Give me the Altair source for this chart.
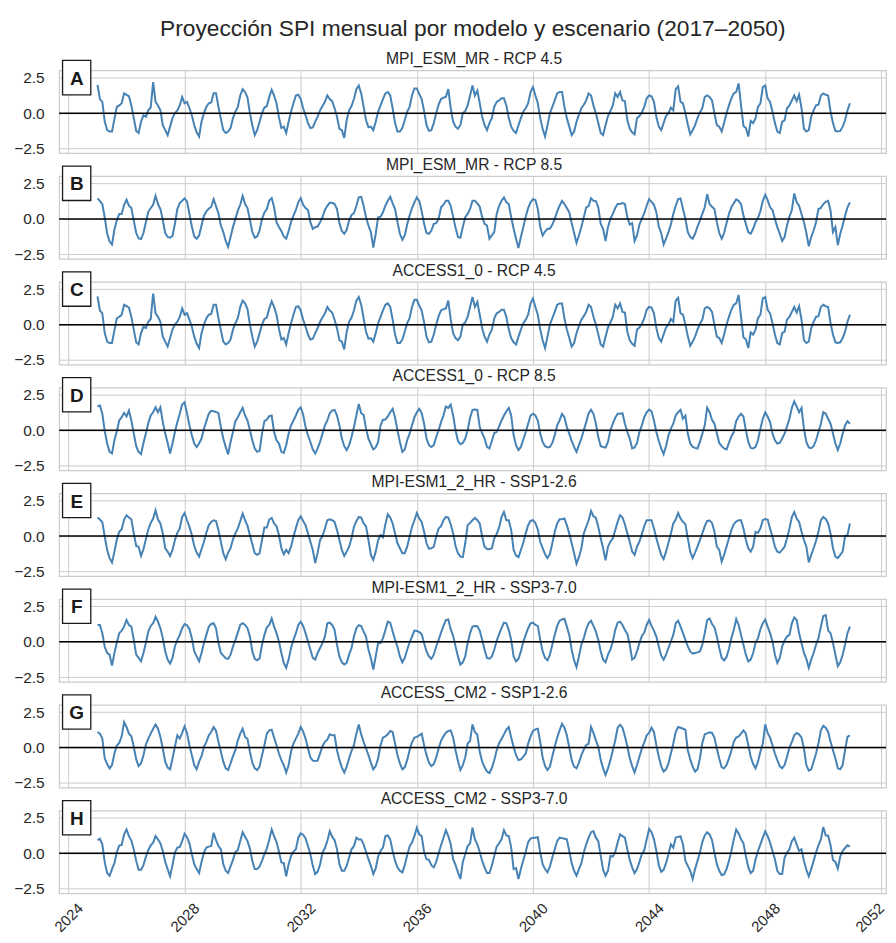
import altair as alt
import pandas as pd

FONT = "Liberation Sans"
main_title = "Proyección SPI mensual por modelo y escenario (2017–2050)"
panel_titles = [
    "MPI_ESM_MR - RCP 4.5",
    "MPI_ESM_MR - RCP 8.5",
    "ACCESS1_0 - RCP 4.5",
    "ACCESS1_0 - RCP 8.5",
    "MPI-ESM1_2_HR - SSP1-2.6",
    "MPI-ESM1_2_HR - SSP3-7.0",
    "ACCESS_CM2 - SSP1-2.6",
    "ACCESS_CM2 - SSP3-7.0",
]
panel_letters = ["A", "B", "C", "D", "E", "F", "G", "H"]
first_year = 2025
x_ticks = [2024, 2028, 2032, 2036, 2040, 2044, 2048, 2052]
y_ticks = [-2.5, 0.0, 2.5]

# monthly SPI values, one row per year (Jan..Dec), 2025-2050
spi_a = [
    [2.0, 1.0, 0.8, -0.6, -1.2, -1.3, -1.3, -0.4, 0.45, 0.55, 0.7, 1.4],
    [1.3, 1.2, 0.55, -0.35, -1.25, -1.4, -0.6, -0.15, -0.25, 0.2, 0.4, 2.2],
    [0.8, 0.55, 0.2, -0.85, -1.2, -1.55, -0.95, -0.35, 0.0, 0.2, 0.55, 1.15],
    [0.7, 0.8, 0.35, -0.15, -0.85, -1.35, -1.65, -0.6, 0.0, 0.45, 0.7, 0.75],
    [1.4, 1.4, 0.45, -0.4, -1.2, -1.4, -1.3, -1.05, -0.35, 0.1, 0.45, 1.25],
    [1.7, 1.5, 1.1, 0.0, -0.85, -1.55, -1.2, -0.6, 0.0, 0.4, 0.5, 1.15],
    [1.65, 1.25, 0.7, -0.3, -1.05, -0.95, -1.4, -0.6, 0.1, 0.7, 1.25, 1.3],
    [1.0, 0.35, -0.15, -0.7, -1.05, -1.0, -0.6, -0.25, 0.2, 0.5, 0.8, 1.25],
    [1.0, 0.85, 0.35, -0.25, -1.1, -1.2, -1.75, -0.5, 0.2, 0.5, 1.0, 1.7],
    [1.95, 1.4, 0.45, -0.5, -1.0, -0.95, -1.2, -0.6, 0.1, 0.55, 1.0, 1.4],
    [1.5, 1.25, 0.35, -0.7, -1.3, -1.3, -1.05, -0.5, 0.1, 0.45, 1.25, 1.75],
    [1.75, 1.35, 1.0, 0.15, -0.85, -1.25, -1.2, -0.7, 0.0, 0.6, 1.0, 1.1],
    [1.15, 1.7, 0.35, -0.6, -0.95, -1.1, -0.85, 0.0, 0.15, 0.55, 1.25, 1.95],
    [1.25, 1.6, 0.7, -0.25, -0.85, -1.2, -0.7, -0.35, 0.45, 0.8, 0.9, 1.05],
    [1.05, 0.55, -0.35, -0.95, -1.25, -1.4, -0.85, -0.35, 0.1, 0.35, 0.7, 1.5],
    [1.85, 1.25, 0.7, -0.35, -1.1, -1.65, -0.85, 0.0, 0.45, 0.9, 1.4, 1.5],
    [1.5, 0.45, -0.35, -0.95, -1.55, -1.3, -0.6, -0.1, 0.35, 0.6, 0.9, 1.4],
    [1.25, 0.55, 0.0, -0.7, -1.4, -1.55, -0.85, -0.2, 0.15, 0.55, 1.4, 1.15],
    [1.5, 0.9, 0.85, -0.5, -1.1, -1.35, -1.5, -0.35, -0.2, 0.05, 0.45, 1.05],
    [1.25, 1.2, 0.8, -0.25, -0.95, -1.2, -0.7, -0.2, 0.0, 0.4, 0.2, 1.7],
    [1.9, 0.8, 0.7, 0.0, -0.8, -1.5, -1.2, -0.85, -0.35, 0.05, 0.35, 1.15],
    [1.25, 1.15, 0.9, 0.0, -0.85, -0.95, -1.3, -0.7, 0.0, 0.55, 1.05, 1.4],
    [1.5, 2.1, 0.55, -0.9, -1.05, -1.65, -0.55, -0.7, -0.35, 0.45, 0.7, 1.85],
    [1.95, 1.05, 0.8, 0.1, -0.7, -1.3, -1.4, -0.6, -0.5, 0.35, 0.55, 0.9],
    [1.25, 0.85, 1.3, 0.35, -1.1, -1.3, -1.2, -0.25, 0.2, 0.55, 0.6, 1.25],
    [1.4, 1.3, 1.25, 0.1, -0.7, -1.25, -1.3, -1.25, -0.95, -0.5, 0.2, 0.7],
]

spi_b = [
    [1.45, 1.28, 1.05, 0.1, -1.05, -1.6, -1.8, -0.75, -0.1, 0.35, 0.35, 1.0],
    [1.35, 0.93, 0.77, -0.12, -1.0, -1.38, -1.42, -1.0, -0.23, 0.5, 0.77, 1.0],
    [1.63, 1.05, 0.7, -0.07, -1.0, -1.28, -1.33, -1.2, -0.35, 0.7, 1.12, 1.28],
    [1.45, 1.24, 0.35, -0.54, -1.24, -1.4, -1.17, -0.47, 0.23, 0.54, 0.72, 0.86],
    [1.4, 0.89, 0.4, -0.47, -0.93, -1.56, -1.98, -1.28, -0.58, 0.0, 0.58, 1.0],
    [1.63, 1.05, 0.77, -0.07, -0.93, -1.33, -1.24, -0.82, 0.0, 0.45, 0.7, 1.3],
    [1.47, 0.82, -0.23, -0.58, -0.86, -1.24, -1.4, -0.86, -0.23, 0.23, 0.63, 1.17],
    [1.47, 1.0, 0.77, 0.63, -0.23, -0.7, -0.58, -0.54, -0.23, 0.12, 0.63, 0.93],
    [1.14, 1.14, 1.05, 0.7, -0.3, -0.86, -1.05, -0.77, -0.12, 0.28, 0.4, 0.93],
    [1.52, 1.56, 0.93, 0.12, -0.47, -0.93, -2.03, -1.05, 0.12, 0.16, 0.47, 0.93],
    [1.28, 1.56, 1.1, 0.7, -0.23, -1.05, -1.47, -1.17, -0.4, 0.23, 0.77, 1.17],
    [1.52, 1.28, 0.54, -0.35, -1.0, -1.05, -0.82, -0.35, -0.3, 0.0, 0.82, 1.0],
    [1.28, 1.28, 0.93, 0.16, -0.63, -1.28, -1.33, -0.58, 0.12, 0.35, 0.7, 1.28],
    [1.28, 1.1, 0.86, 0.12, -0.35, -0.47, -1.4, -1.17, -0.93, 0.35, 0.93, 1.28],
    [1.52, 1.17, 1.05, 0.12, -0.7, -1.4, -2.05, -1.28, -0.58, 0.16, 0.77, 1.17],
    [1.4, 1.33, 0.7, -0.58, -1.17, -0.89, -0.7, -0.7, -0.4, 0.0, 0.51, 0.93],
    [1.28, 1.05, 0.77, 0.47, -0.3, -1.0, -1.7, -1.17, -0.58, 0.12, 0.82, 0.91],
    [1.47, 1.28, 1.26, 0.82, -0.35, -0.7, -1.56, -0.58, 0.0, 0.35, 0.77, 1.05],
    [1.05, 1.12, 1.05, 0.12, -0.4, -0.3, -1.56, -1.17, -0.4, 0.0, 0.4, 0.93],
    [1.4, 1.21, 1.0, 0.47, -0.54, -1.0, -1.8, -1.4, -0.93, -0.4, 0.35, 0.93],
    [1.4, 1.45, 0.7, 0.0, -0.93, -1.28, -1.4, -1.05, -0.54, -0.12, 0.35, 0.82],
    [1.75, 1.05, 0.86, 0.7, -0.23, -1.0, -1.4, -1.0, -0.3, 0.35, 0.82, 1.1],
    [1.38, 1.28, 1.05, 0.23, -0.35, -0.93, -1.05, -0.7, -0.23, 0.07, 0.54, 1.28],
    [1.7, 1.33, 0.82, 0.63, 0.0, -0.58, -1.05, -1.56, -1.28, -0.47, 0.16, 0.63],
    [1.8, 1.17, 0.93, 0.35, -0.23, -1.0, -1.93, -1.28, -0.82, -0.23, 0.7, 0.77],
    [1.05, 1.21, 1.28, 0.58, -0.93, -0.58, -1.86, -1.05, -0.47, 0.23, 0.82, 1.17],
]

# ACCESS1_0 RCP 4.5 draws the same series as MPI_ESM_MR RCP 4.5 in the source figure
spi_c = [row[:] for row in spi_a]

spi_d = [
    [1.7, 1.75, 1.17, -0.05, -0.93, -1.52, -1.63, -0.7, -0.05, 0.7, 0.93, 1.24],
    [0.98, 1.4, 0.7, -0.23, -1.12, -1.52, -1.68, -0.89, -0.23, 0.51, 1.05, 1.28],
    [1.63, 1.28, 1.63, 0.58, -0.23, -0.89, -1.63, -0.93, -0.12, 0.58, 1.17, 1.82],
    [1.98, 1.21, 0.35, -0.35, -0.93, -1.17, -0.93, -0.58, 0.12, 0.65, 1.17, 1.38],
    [1.35, 1.3, 1.21, 0.23, -0.58, -1.17, -1.7, -0.82, -0.12, 0.65, 0.93, 1.28],
    [1.59, 1.05, 0.7, 0.0, -0.7, -1.28, -1.52, -1.45, -0.23, 0.65, 0.77, 1.0],
    [1.05, -0.12, -0.7, -0.93, -1.52, -1.59, -1.05, -0.23, 0.35, 0.7, 1.05, 1.45],
    [1.63, 1.12, 0.23, -0.35, -0.82, -1.35, -1.63, -1.28, -0.82, -0.23, 0.35, 0.7],
    [1.21, 1.4, 1.45, 1.05, 0.35, -0.58, -1.12, -1.4, -1.05, -0.47, 0.23, 1.05],
    [1.86, 1.21, 1.1, 0.12, -0.58, -0.98, -1.35, -1.21, -0.82, 0.35, 0.75, 0.77],
    [0.98, 1.28, 1.52, 0.89, 0.0, -0.82, -1.52, -1.35, -0.7, -0.23, 0.35, 0.93],
    [1.28, 1.52, 1.21, 0.47, -0.58, -1.05, -1.17, -1.05, -0.47, 0.0, 0.58, 1.05],
    [1.68, 1.59, 1.82, 1.05, 0.0, -0.75, -0.98, -0.89, -0.58, 0.0, 0.89, 1.45],
    [1.47, 1.45, 0.23, -0.19, -0.58, -1.17, -1.28, -0.75, -0.19, -0.12, 0.28, 0.7],
    [1.05, 1.35, 1.59, 1.05, -0.35, -1.05, -1.4, -1.17, -0.65, -0.12, 0.47, 1.05],
    [1.17, 1.05, 0.7, -0.23, -0.82, -1.12, -1.21, -1.17, -0.89, -0.35, 0.35, 0.7],
    [1.17, 0.93, 0.23, -0.23, -0.75, -1.17, -1.52, -1.05, -0.58, 0.0, 0.58, 1.21],
    [1.45, 1.17, 0.47, -0.47, -1.12, -1.17, -1.21, -0.82, 0.0, 0.47, 0.89, 1.17],
    [1.17, 1.21, 0.47, -0.12, -0.58, -1.28, -1.21, -0.89, -0.12, 0.35, 0.93, 1.28],
    [1.47, 1.35, 0.7, -0.12, -0.75, -1.28, -1.68, -1.12, -0.35, 0.12, 0.47, 1.05],
    [1.28, 1.45, 0.82, 1.05, -0.23, -0.93, -1.17, -1.24, -1.28, -0.82, -0.23, 0.35],
    [1.6, 1.28, 0.75, 0.47, -0.23, -0.89, -1.12, -1.28, -1.35, -0.89, -0.42, -0.12],
    [0.65, 0.98, 1.17, 0.98, 0.0, -0.82, -1.24, -1.28, -1.17, -0.7, 0.12, 0.82],
    [1.28, 0.98, 0.58, -0.23, -0.7, -0.93, -0.89, -0.58, -0.23, 0.28, 0.82, 1.59],
    [2.05, 1.68, 1.28, 1.59, 0.12, -0.82, -1.21, -1.26, -1.12, -0.7, -0.12, 0.47],
    [1.28, 1.17, 0.82, 0.47, -0.23, -0.93, -1.4, -0.93, -0.23, 0.35, 0.65, 0.47],
]

spi_e = [
    [1.31, 1.17, 0.98, -0.05, -0.98, -1.56, -1.86, -1.1, -0.23, 0.3, 0.49, 1.17],
    [1.47, 1.31, 1.19, 0.19, -0.7, -0.75, -1.4, -0.93, -0.23, 0.47, 0.93, 1.24],
    [1.82, 1.17, 0.89, 0.19, -0.86, -1.1, -1.4, -0.98, -0.28, 0.23, 0.54, 1.35],
    [1.63, 1.12, 0.65, 0.07, -0.7, -1.17, -1.45, -0.93, -0.4, 0.23, 0.77, 1.0],
    [1.12, 1.07, 0.42, -0.4, -1.21, -1.63, -1.17, -0.86, -0.23, 0.19, 0.54, 1.05],
    [1.59, 1.12, 0.72, 0.07, -0.56, -1.21, -1.33, -1.21, -0.28, 0.61, 0.61, 1.17],
    [1.28, 0.89, 0.7, 0.07, -0.86, -1.28, -0.98, -1.21, -0.75, -0.05, 0.56, 1.12],
    [1.4, 1.07, 0.77, 0.19, -0.4, -0.98, -1.91, -1.17, -0.28, 0.0, 0.54, 1.12],
    [1.19, 1.12, 1.0, 0.42, -0.28, -0.98, -1.4, -1.1, -0.75, -0.16, 0.65, 1.05],
    [1.35, 1.31, 0.89, 0.7, -0.28, -1.33, -1.68, -1.1, -0.28, 0.07, -0.09, 0.84],
    [1.54, 1.31, 0.89, 0.19, -0.51, -0.86, -1.21, -1.21, -0.75, -0.05, 0.65, 1.12],
    [1.63, 1.24, 1.0, 0.3, -0.51, -0.89, -0.86, -0.75, -0.05, 0.54, 0.7, 1.12],
    [1.35, 1.31, 0.84, 0.19, -0.7, -1.21, -1.45, -1.49, -0.51, 0.77, 0.93, 1.12],
    [1.28, 1.12, 0.89, -0.05, -0.75, -0.91, -0.93, -0.86, -0.16, 0.14, 0.61, 1.35],
    [1.7, 1.12, 1.12, 0.42, -0.98, -1.38, -1.49, -0.98, -0.47, 0.19, 0.77, 1.07],
    [1.12, 0.93, 0.47, -0.4, -0.86, -1.28, -1.56, -1.26, -0.51, 0.3, 0.89, 1.19],
    [1.19, 1.24, 0.77, 0.19, -0.51, -1.21, -1.96, -1.49, -0.86, 0.19, 0.65, 1.12],
    [1.77, 1.4, 1.28, 0.65, -0.16, -0.86, -1.72, -0.75, -0.4, -0.16, 0.42, 1.0],
    [1.47, 1.31, 0.84, 0.19, -0.4, -1.1, -1.33, -0.75, -0.4, 0.14, 0.7, 1.12],
    [1.12, 1.12, 0.54, -0.16, -0.75, -1.33, -1.63, -1.1, -0.47, 0.19, 0.89, 1.17],
    [1.63, 1.24, 1.0, 0.84, -0.16, -1.1, -1.56, -1.17, -0.75, -0.28, 0.19, 0.7],
    [1.07, 1.1, 0.93, 0.3, -0.75, -0.98, -1.8, -1.33, -0.75, -0.16, 0.42, 0.84],
    [1.03, 1.12, 1.12, 0.54, -0.28, -0.86, -1.1, -0.75, 0.3, 0.23, 0.54, 1.12],
    [1.21, 1.17, 0.54, -0.05, -0.75, -1.1, -1.17, -0.98, -0.75, -0.16, 0.54, 1.35],
    [1.7, 1.24, 1.0, 0.3, -0.28, -0.75, -1.86, -1.33, -0.86, -0.33, 0.3, 1.12],
    [1.35, 1.21, 0.89, 0.19, -0.86, -1.45, -1.56, -1.33, -1.1, 0.0, 0.07, 0.89],
]

spi_f = [
    [1.19, 1.19, 0.61, -0.37, -0.79, -0.91, -1.68, -0.79, -0.05, 0.61, 0.79, 1.07],
    [1.54, 1.19, 1.07, 0.14, -0.91, -1.14, -1.38, -0.79, -0.09, 0.72, 1.12, 1.31],
    [1.77, 1.42, 0.96, 0.26, -0.68, -1.26, -1.54, -1.14, -0.33, 0.14, 0.49, 0.96],
    [1.26, 1.17, 0.89, 0.26, -0.68, -1.03, -1.38, -0.79, -0.09, 0.49, 1.07, 1.26],
    [1.31, 0.96, -0.09, -0.79, -0.98, -1.17, -1.21, -0.91, -0.33, 0.14, 0.65, 1.19],
    [1.31, 1.19, 0.96, 0.37, -0.68, -1.21, -1.31, -1.17, -0.21, 0.49, 1.03, 1.19],
    [1.65, 1.07, 0.61, 0.02, -0.79, -1.49, -1.84, -1.26, -0.44, 0.14, 0.61, 1.19],
    [1.42, 1.12, 0.61, 0.02, -0.56, -1.14, -1.26, -0.79, -0.44, -0.09, 0.37, 1.31],
    [1.35, 1.19, 0.84, -0.21, -1.03, -1.45, -1.61, -1.49, -0.91, -0.44, 0.37, 0.96],
    [1.17, 1.12, 0.72, 0.37, -0.56, -1.14, -1.96, -1.03, -0.09, -0.09, 0.26, 0.84],
    [1.42, 1.35, 0.72, 0.14, -0.37, -1.03, -1.45, -1.14, -0.56, -0.05, 0.37, 0.79],
    [0.77, 0.68, 0.54, -0.09, -0.68, -1.03, -1.21, -0.91, -0.33, 0.14, 0.65, 1.12],
    [1.54, 1.58, 0.89, 0.42, -0.33, -1.03, -1.61, -1.45, -1.03, -0.09, 0.61, 1.07],
    [1.12, 1.1, 0.79, 0.14, -0.56, -1.14, -1.19, -1.03, -0.56, 0.07, 0.54, 0.96],
    [1.35, 1.31, 0.84, 0.14, -1.03, -1.38, -1.21, -0.68, 0.0, 0.49, 0.96, 1.31],
    [1.35, 1.19, 1.12, 0.14, -0.68, -1.14, -1.31, -0.91, -0.21, 0.49, 1.12, 1.49],
    [1.58, 1.63, 1.07, 0.49, -0.56, -1.31, -1.79, -1.03, -0.21, 0.26, 0.89, 1.31],
    [1.49, 1.12, 0.72, 0.14, -0.68, -1.26, -1.45, -0.91, -0.56, 0.02, 0.84, 1.35],
    [1.42, 1.19, 0.84, 0.56, -0.21, -1.26, -1.14, -0.68, -0.09, 0.42, 0.65, 1.19],
    [1.54, 1.12, 0.79, 0.37, -0.33, -0.98, -1.26, -0.91, -0.44, 0.02, 0.49, 1.31],
    [1.49, 1.07, 0.61, 0.14, -0.33, -0.68, -0.84, -0.79, -0.75, -0.68, -0.21, 0.61],
    [1.54, 1.65, 1.26, 1.03, 0.37, -0.44, -1.14, -1.31, -1.07, -0.51, 0.26, 0.84],
    [1.61, 1.19, 0.49, -0.21, -0.91, -1.38, -1.26, -0.79, -0.09, 0.26, 0.89, 1.31],
    [1.58, 1.07, 0.61, 0.02, -0.91, -1.49, -1.14, -0.33, 0.09, 0.37, 0.49, 1.31],
    [1.72, 1.54, 0.61, -0.09, -0.79, -1.21, -1.84, -1.26, -0.79, -0.21, 0.26, 1.07],
    [1.82, 1.89, 0.79, 0.61, -0.09, -0.91, -1.72, -1.45, -0.91, -0.21, 0.61, 1.07],
]

spi_g = [
    [1.1, 0.98, 0.63, -0.77, -1.17, -1.47, -1.24, -0.42, 0.14, 0.33, 0.79, 1.79],
    [1.45, 0.98, 0.79, 0.05, -0.84, -1.31, -1.12, -0.54, 0.21, 0.63, 0.98, 1.33],
    [1.63, 1.33, 0.75, -0.07, -1.0, -1.42, -1.54, -0.77, 0.05, 0.86, 0.63, 1.03],
    [1.49, 1.03, 0.16, -0.54, -1.24, -1.54, -1.0, -0.61, 0.05, 0.4, 0.86, 1.1],
    [1.45, 1.17, 0.4, -0.3, -1.0, -1.47, -1.59, -1.12, -0.61, -0.19, 0.51, 0.98],
    [1.33, 0.75, 0.61, -0.3, -1.07, -1.47, -1.59, -1.35, -0.54, 0.16, 0.98, 1.21],
    [1.26, 0.7, 0.16, -0.42, -0.89, -1.24, -1.77, -1.24, -0.3, 0.28, 0.63, 0.98],
    [1.45, 1.14, 0.63, -0.07, -0.7, -0.93, -0.96, -0.93, -0.42, 0.09, 0.4, 0.56],
    [0.93, 0.86, 0.86, -0.19, -0.89, -1.4, -1.77, -1.35, -0.77, -0.23, 0.16, 0.98],
    [1.63, 0.93, 0.4, -0.07, -0.54, -1.07, -1.54, -1.31, -0.77, 0.16, 0.7, 0.79],
    [0.93, 1.17, 1.1, 0.28, -0.54, -1.12, -1.54, -1.4, -0.89, -0.19, 0.37, 0.7],
    [0.75, 0.86, 0.98, 0.16, -0.54, -1.07, -1.31, -1.17, -0.7, -0.07, 0.47, 0.79],
    [1.05, 1.17, 1.21, 0.7, -0.19, -0.96, -1.59, -1.24, -0.7, 0.28, 0.47, 1.63],
    [1.1, 0.9, -0.3, -1.0, -1.4, -1.7, -1.8, -1.45, -0.9, -0.2, 0.3, 0.6],
    [0.93, 1.26, 1.45, 0.7, 0.05, -0.54, -0.89, -0.84, -0.65, -0.42, 0.28, 0.79],
    [1.17, 1.28, 1.33, 0.4, -0.7, -1.31, -1.59, -1.35, -0.61, 0.05, 0.7, 1.21],
    [1.68, 1.4, 0.86, 0.0, -0.89, -1.35, -1.47, -1.07, -0.54, -0.14, 0.16, 0.28],
    [1.45, 1.03, 0.51, 0.05, -0.89, -1.47, -1.93, -1.47, -0.89, -0.19, 0.51, 1.4],
    [1.61, 1.4, 0.79, 0.09, -0.77, -1.31, -1.77, -1.24, -0.65, -0.07, 0.37, 0.86],
    [1.03, 1.4, 1.1, 0.16, -0.65, -1.31, -1.7, -1.54, -1.12, -0.42, 0.28, 1.1],
    [1.45, 1.4, 1.33, 1.26, -0.19, -0.84, -1.35, -1.7, -1.54, -0.77, 0.33, 0.93],
    [1.0, 1.07, 1.03, 0.7, -0.07, -0.77, -1.4, -1.47, -1.24, -0.77, -0.23, 0.4],
    [0.7, 0.79, 0.98, 1.21, 0.98, 0.16, -0.65, -1.17, -1.47, -1.0, -0.3, 0.28],
    [1.63, 1.03, 0.7, 0.16, -0.42, -0.89, -1.31, -1.47, -1.24, -0.65, 0.0, 0.4],
    [0.86, 1.03, 0.93, 0.7, -0.07, -1.24, -1.63, -1.54, -1.0, -0.42, 0.28, 1.21],
    [1.54, 1.4, 1.1, 0.4, -0.19, -0.77, -1.47, -1.54, -1.24, -0.19, 0.75, 0.86],
]

spi_h = [
    [0.93, 1.03, 0.63, -0.65, -1.4, -1.59, -1.12, -0.7, 0.09, 0.54, 0.58, 1.33],
    [1.68, 1.21, 0.89, 0.28, -0.54, -1.17, -1.17, -0.84, -0.26, 0.23, 0.56, 0.75],
    [1.21, 0.98, 0.7, 0.16, -0.61, -1.12, -1.63, -0.84, 0.05, 0.4, 0.44, 0.86],
    [1.38, 1.14, 0.7, -0.07, -0.77, -1.12, -1.4, -0.61, 0.05, 0.4, 0.47, 0.51],
    [1.45, 0.93, 0.51, 0.28, -0.77, -1.24, -1.4, -0.93, -0.47, 0.09, 0.23, 0.86],
    [1.49, 1.17, 0.86, 0.33, -0.54, -1.12, -1.12, -0.93, -0.54, -0.07, 0.33, 0.98],
    [1.68, 1.21, 0.79, 0.12, -0.65, -0.7, -1.63, -0.77, -0.19, 0.12, 0.28, 1.1],
    [1.4, 1.31, 1.05, 0.51, -0.07, -0.89, -1.47, -1.31, -0.79, 0.05, 0.37, 0.86],
    [1.56, 1.17, 0.93, 0.28, -0.77, -1.24, -1.24, -0.89, -0.3, 0.28, 0.51, 1.1],
    [0.98, 0.98, 0.63, 0.09, -0.42, -0.89, -1.47, -1.07, -0.23, 0.16, 0.4, 1.21],
    [1.26, 0.98, 0.16, -0.54, -1.0, -1.24, -1.35, -0.84, -0.14, 0.47, 0.75, 1.21],
    [1.8, 1.33, 1.21, 0.09, -0.42, -0.47, -0.84, -1.0, -0.61, 0.0, 0.56, 1.1],
    [1.63, 1.21, 0.63, -0.42, -0.84, -1.35, -1.82, -0.61, -0.07, 0.51, 0.7, 1.8],
    [0.98, 0.63, 0.09, -0.54, -1.0, -1.4, -1.4, -0.89, -0.19, 0.47, 0.7, 0.98],
    [1.63, 1.26, 1.21, 0.4, -1.12, -1.05, -1.82, -1.12, -0.47, 0.09, 0.79, 1.03],
    [1.1, 1.1, 1.14, 0.05, -0.77, -1.12, -1.35, -0.93, -0.3, 0.28, 0.86, 1.1],
    [1.07, 1.03, 0.98, 0.16, -0.7, -1.24, -1.59, -1.12, -0.7, 0.05, 0.63, 1.1],
    [1.49, 1.56, 1.1, 0.86, -0.19, -1.17, -1.59, -1.24, -0.19, -0.23, 0.09, 0.75],
    [1.33, 1.21, 1.1, 0.28, -0.47, -1.0, -1.4, -1.12, -0.61, -0.07, 0.21, 0.98],
    [1.72, 1.49, 0.98, 0.16, -0.84, -1.31, -1.17, -0.7, -0.07, 0.63, 0.4, 1.1],
    [1.17, 1.19, 0.63, -0.54, -0.89, -1.24, -1.82, -1.12, -0.54, 0.05, 0.79, 1.26],
    [1.49, 1.33, 0.93, 0.05, -0.77, -1.24, -1.54, -1.49, -1.12, -0.54, 0.16, 0.98],
    [1.68, 1.4, 0.98, 0.7, -0.19, -1.0, -1.4, -1.24, -0.42, 0.16, 0.63, 1.1],
    [1.56, 1.21, 0.75, 0.16, -0.42, -1.24, -1.47, -1.47, -0.3, 0.05, 0.28, 0.86],
    [1.1, 0.63, 0.16, 0.28, -0.54, -1.17, -1.63, -1.12, -0.54, 0.05, 0.56, 0.98],
    [1.86, 1.26, 1.26, 0.56, -0.47, -0.61, -1.1, -0.23, 0.16, 0.37, 0.56, 0.47],
]

all_series = [spi_a, spi_b, spi_c, spi_d, spi_e, spi_f, spi_g, spi_h]

PLOT_W = 829
PLOT_H = 83
X_DOMAIN = [2023.68, 2052.16]
Y_DOMAIN = [-2.83, 3.02]
TEXT = "#262626"


def make_panel(i, rows):
    values = [v for row in rows for v in row]
    times = [first_year + k / 12.0 for k in range(len(values))]
    df = pd.DataFrame({"t": times, "spi": values})
    bottom = i == len(all_series) - 1
    x_axis = alt.Axis(
        values=x_ticks, format="d", title=None, grid=True, ticks=False,
        domain=False, labels=bottom, labelAngle=-45, labelAlign="center",
        labelBaseline="middle", labelPadding=24, labelFontSize=15,
        labelFont=FONT, labelColor=TEXT,
        labelOffset={"condition": {"test": "datum.value >= 2052", "value": -12}, "value": 0},
        gridColor="#cccccc", gridWidth=1,
    )
    y_axis = alt.Axis(
        values=y_ticks, format=".1f", title=None, grid=True, ticks=False,
        domain=False, labelPadding=15, labelFontSize=15.5, labelFont=FONT,
        labelColor=TEXT, minExtent=46, maxExtent=46, gridColor="#cccccc",
        gridWidth=1,
    )
    x = alt.X("t:Q", scale=alt.Scale(domain=X_DOMAIN, nice=False, zero=False), axis=x_axis)
    y = alt.Y("spi:Q", scale=alt.Scale(domain=Y_DOMAIN, nice=False, zero=False), axis=y_axis)
    line = alt.Chart(df).mark_line(color="#4682b4", strokeWidth=2).encode(x=x, y=y)
    meta = pd.DataFrame({
        "letter": [panel_letters[i]],
        "title": [panel_titles[i]],
        "zero": [0.0],
    })
    zero = alt.Chart(meta).mark_rule(color="#000000", strokeWidth=1.5).encode(
        y=alt.Y("zero:Q", scale=alt.Scale(domain=Y_DOMAIN, nice=False, zero=False))
    )
    box = alt.Chart(meta).mark_rect(
        fill="white", stroke="#1a1a1a", strokeWidth=1.3
    ).encode(x=alt.value(3.4), x2=alt.value(31.7), y=alt.value(-10), y2=alt.value(24.4))
    letter = alt.Chart(meta).mark_text(
        font=FONT, fontSize=19, fontWeight="bold", color="#1a1a1a",
        align="center", baseline="middle",
    ).encode(x=alt.value(17.6), y=alt.value(8.2), text="letter:N")
    ptitle = alt.Chart(meta).mark_text(
        font=FONT, fontSize=15.7, color=TEXT, align="center", baseline="middle",
    ).encode(x=alt.value(416), y=alt.value(-11.4), text="title:N")
    layers = [line, zero, box, letter, ptitle]
    if i == 0:
        tdf = pd.DataFrame({"main": [main_title]})
        mtitle = alt.Chart(tdf).mark_text(
            font=FONT, fontSize=22.8, color=TEXT, align="center", baseline="middle",
        ).encode(x=alt.value(414.7), y=alt.value(-41.9), text="main:N")
        layers.append(mtitle)
    return alt.layer(*layers).properties(width=PLOT_W, height=PLOT_H)


panels = [make_panel(i, rows) for i, rows in enumerate(all_series)]

chart = alt.vconcat(*panels, spacing=23, bounds="flush").properties(
    padding={"left": 4.3, "top": 7.4, "right": 0, "bottom": 0},
).configure_view(stroke="#cccccc", strokeWidth=1.25)

chart.save("out.html", embed_options={"renderer": "svg", "actions": False})
